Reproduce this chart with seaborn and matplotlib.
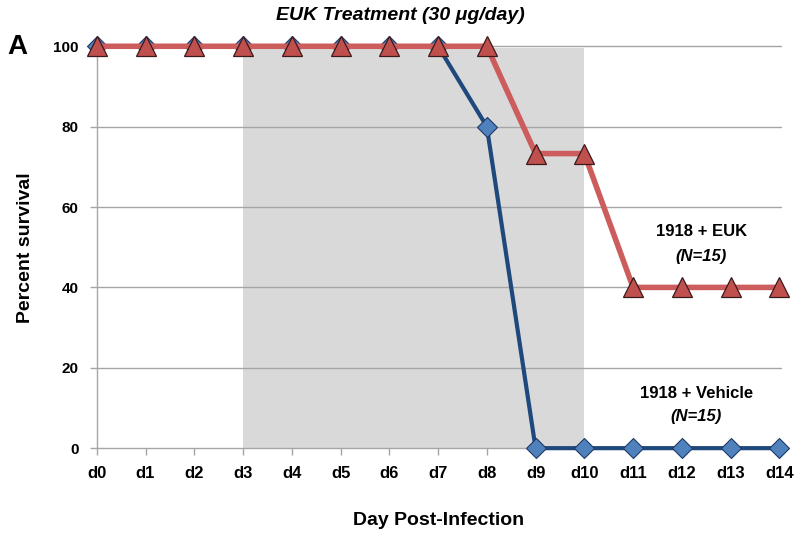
import matplotlib
matplotlib.use("Agg")
import matplotlib.pyplot as plt
import seaborn as sns
import pandas as pd

# data
days = ["d0", "d1", "d2", "d3", "d4", "d5", "d6", "d7",
        "d8", "d9", "d10", "d11", "d12", "d13", "d14"]
vehicle = [100, 100, 100, 100, 100, 100, 100, 100, 80, 0, 0, 0, 0, 0, 0]
euk = [100, 100, 100, 100, 100, 100, 100, 100, 100, 73.3, 73.3, 40, 40, 40, 40]
yticks = [0, 20, 40, 60, 80, 100]
treat_start, treat_end = 3, 10

sns.set_style("white", {"xtick.bottom": True, "ytick.left": True})
plt.rcParams['font.family'] = ['Liberation Sans', 'DejaVu Sans']
plt.rcParams['text.color'] = 'black'
plt.rcParams['axes.labelcolor'] = 'black'
plt.rcParams['xtick.color'] = 'black'
plt.rcParams['ytick.color'] = 'black'

df = pd.DataFrame({"day": range(len(days)), "vehicle": vehicle, "euk": euk})

fig = plt.figure(figsize=(8, 5.38), dpi=100)
ax = fig.add_axes([0.121, 0.167, 0.855, 0.747])  # [left, bottom, width, height]

# treatment window
ax.axvspan(treat_start, treat_end, ymin=0, ymax=0.995, color="#D9D9D9", zorder=0, lw=0)

for y in yticks[1:]:
    ax.axhline(y, color="#A6A6A6", lw=1, zorder=1)

sns.lineplot(data=df, x="day", y="vehicle", ax=ax, color="#1F497D", lw=3,
             marker="D", markersize=10, markerfacecolor="#4F81BD",
             markeredgecolor="#1F3A66", markeredgewidth=0.8, zorder=3)
sns.lineplot(data=df, x="day", y="euk", ax=ax, color="#CD5C5C", lw=4,
             marker="^", markersize=15, markerfacecolor="#C0504D",
             markeredgecolor="#3A1A1A", markeredgewidth=0.9, zorder=4)
for line in ax.lines:
    line.set_clip_on(False)

ax.set_xlim(0, 14.03)
ax.set_ylim(0, 100)
ax.set_xticks(range(len(days)))
ax.set_xticklabels(days, fontsize=12, fontweight="bold")
ax.set_yticks(yticks)
ax.set_yticklabels(yticks, fontsize=11, fontweight="bold")
ax.tick_params(axis="x", direction="out", length=5, width=1, color="#A6A6A6", pad=8, bottom=True)
ax.tick_params(axis="y", direction="out", length=5, width=1, color="#A6A6A6", pad=8, left=True)

for s in ["top", "right"]:
    ax.spines[s].set_visible(False)
for s in ["left", "bottom"]:
    ax.spines[s].set_color("#A6A6A6")
    ax.spines[s].set_linewidth(1)

ax.set_xlabel("Day Post-Infection", fontsize=14, fontweight="bold", labelpad=22)
ax.set_ylabel("Percent survival", fontsize=14, fontweight="bold", labelpad=14)

fig.text(0.5, 0.972, "EUK Treatment (30 \u03bcg/day)", ha="center", va="center",
         fontsize=14, fontweight="bold", style="italic")
fig.text(0.022, 0.912, "A", ha="center", va="center", fontsize=20, fontweight="bold")

ax.text(12.4, 54, "1918 + EUK", ha="center", va="center", fontsize=12, fontweight="bold")
ax.text(12.4, 47.8, "(N=15)", ha="center", va="center", fontsize=12, fontweight="bold", style="italic")
ax.text(12.3, 13.5, "1918 + Vehicle", ha="center", va="center", fontsize=12, fontweight="bold")
ax.text(12.3, 7.8, "(N=15)", ha="center", va="center", fontsize=12, fontweight="bold", style="italic")

fig.savefig("out.png", dpi=100)
